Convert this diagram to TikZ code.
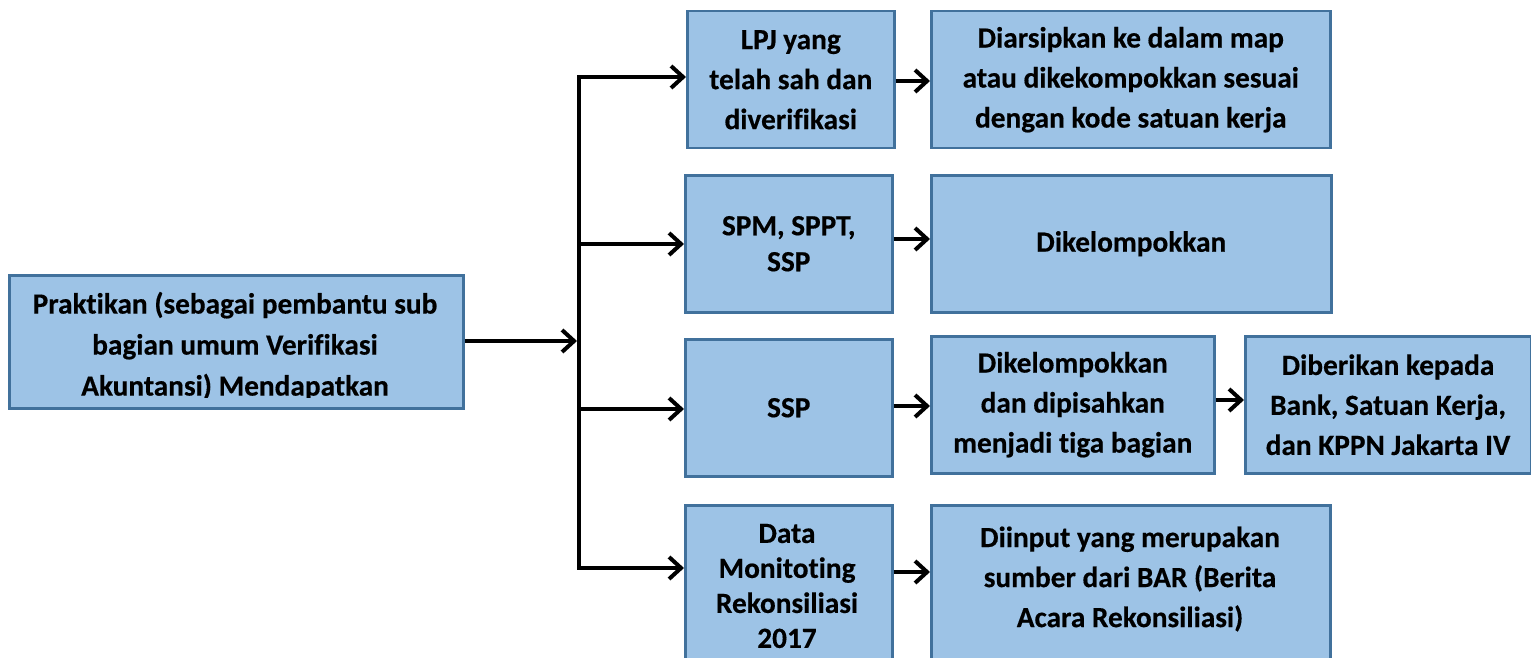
\documentclass[tikz,border=0pt]{standalone}
\usepackage{fontspec}
\setmainfont{Carlito}[Ligatures=NoCommon, BoldFeatures={FakeBold=0.4}]
\usetikzlibrary{arrows.meta,calc}
\definecolor{boxfill}{HTML}{9DC3E6}
\definecolor{boxline}{HTML}{41719C}

\begin{document}
\begin{tikzpicture}[x=1pt,y=-1pt,
  box/.style={draw=boxline, fill=boxfill, line width=2.5pt, anchor=north west,
    inner sep=0pt, align=center, font=\fontsize{29.3}{40}\selectfont\bfseries},
  txt/.style={inner sep=0pt, align=center},
  conn/.style={line width=4pt, -{Straight Barb[length=12pt,width=22pt]}},
  trunk/.style={line width=4pt, line cap=rect}]
\useasboundingbox (0,0) rectangle (1531,658);
\clip (0,0) rectangle (1531,658);

% source box (its last line runs past the inner margin and is cut off)
\node[box, minimum width=454pt, minimum height=133pt] (src) at (8,274) {};
\begin{scope}
  \clip (9,275) rectangle (461,397.5);
  \node[txt, font=\fontsize{29.3}{41}\selectfont\bfseries] (srctext) at (235,346)
    {Praktikan (sebagai pembantu sub\\bagian umum Verifikasi\\Akuntansi) Mendapatkan};
\end{scope}

% second column
\node[box, minimum width=207pt, minimum height=137pt] (lpj) at (686,10)
  {LPJ yang\\telah sah dan\\diverifikasi};
\node[box, minimum width=207pt, minimum height=137pt,
  font=\fontsize{29.3}{36}\selectfont\bfseries] (spm) at (684,174) {SPM, SPPT,\\SSP};
\node[box, minimum width=207pt, minimum height=137pt] (ssp) at (684,338) {SSP};
\node[box, minimum width=207pt, minimum height=200pt] (data) at (684,504) {};
\node[txt, font=\fontsize{29.3}{35}\selectfont\bfseries] (datatext) at (787,586)
  {Data\\Monitoting\\Rekonsiliasi\\2017};

% third column
\node[box, minimum width=399pt, minimum height=137pt] (arsip) at (930,10)
  {Diarsipkan ke dalam map\\atau dikekompokkan sesuai\\dengan kode satuan kerja};
\node[box, minimum width=400pt, minimum height=137pt] (kel) at (930,174) {Dikelompokkan};
\node[box, minimum width=283pt, minimum height=137pt] (pisah) at (930,335)
  {Dikelompokkan\\dan dipisahkan\\menjadi tiga bagian};
\node[box, minimum width=399pt, minimum height=200pt] (input) at (930,504) {};
\node[txt, font=\fontsize{29.3}{40}\selectfont\bfseries] (inputtext) at (1130,579)
  {Diinput yang merupakan\\sumber dari BAR (Berita\\Acara Rekonsiliasi)};

% fourth column
\node[box, minimum width=285.5pt, minimum height=137pt] (beri) at (1244,335)
  {Diberikan kepada\\Bank, Satuan Kerja,\\dan KPPN Jakarta IV};

% trunk and branches
\coordinate (t1) at (579,77);
\coordinate (tj) at (579,341);
\coordinate (t2) at (579,244);
\coordinate (t3) at (579,409);
\coordinate (t4) at (579,568);
\draw[trunk] (t1) -- (t4);
\draw[conn, shorten >=2pt] (src.east |- tj) -- (tj);
\draw[conn] (t1) -- (t1 -| lpj.west);
\draw[conn] (t2) -- (t2 -| spm.west);
\draw[conn] (t3) -- (t3 -| ssp.west);
\draw[conn] (t4) -- (t4 -| data.west);

% second to third column
\draw[conn] (lpj.east |- 0,81) -- (arsip.west |- 0,81);
\draw[conn] (spm.east |- 0,239) -- (kel.west |- 0,239);
\draw[conn] (ssp.east |- 0,406) -- (pisah.west |- 0,406);
\draw[conn] (data.east |- 0,572) -- (input.west |- 0,572);
\draw[conn] (pisah.east |- 0,400) -- (beri.west |- 0,400);
\end{tikzpicture}
\end{document}
